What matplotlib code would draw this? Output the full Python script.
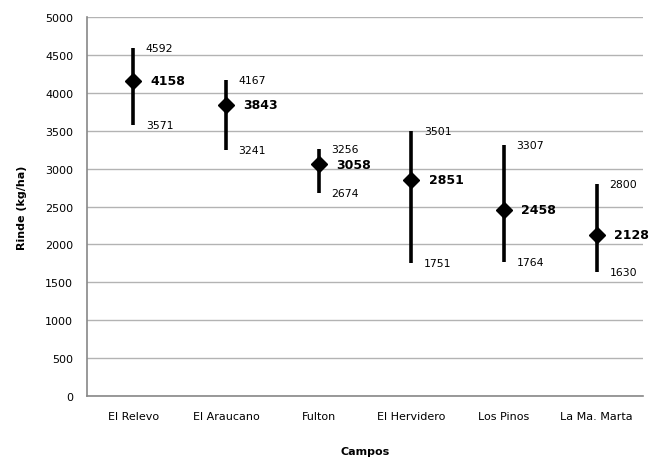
import matplotlib
matplotlib.use("Agg")
import matplotlib.pyplot as plt
from matplotlib.transforms import offset_copy

categories = ["El Relevo", "El Araucano", "Fulton", "El Hervidero", "Los Pinos", "La Ma. Marta"]
high = [4592, 4167, 3256, 3501, 3307, 2800]
low = [3571, 3241, 2674, 1751, 1764, 1630]
mean = [4158, 3843, 3058, 2851, 2458, 2128]
yticks = [0, 500, 1000, 1500, 2000, 2500, 3000, 3500, 4000, 4500, 5000]

plt.rcParams['font.family'] = ['DejaVu Sans']

fig = plt.figure(figsize=(6.49, 4.64), dpi=100)
ax = fig.add_axes([0.134, 0.1444, 0.857, 0.8168])

x = list(range(len(categories)))
ax.vlines(x, low, high, color='black', linewidth=2.6, zorder=3)
ax.plot(x, mean, linestyle='none', marker='D', markersize=8.5, color='black', zorder=4)

hi_tr = offset_copy(ax.transData, fig=fig, x=9, y=0, units='points')
mn_tr = offset_copy(ax.transData, fig=fig, x=12.5, y=0, units='points')
for i in x:
    ax.text(i, high[i], str(high[i]), transform=hi_tr, ha='left', va='center', fontsize=7.8)
    ax.text(i, low[i], str(low[i]), transform=hi_tr, ha='left', va='center', fontsize=7.8)
    ax.text(i, mean[i], str(mean[i]), transform=mn_tr, ha='left', va='center', fontsize=9, fontweight='bold')

ax.set_xlim(-0.5, len(categories) - 0.5)
ax.set_ylim(0, 5000)
ax.set_yticks(yticks)
ax.set_xticks(x)
ax.set_xticklabels(categories, fontsize=8)
ax.tick_params(axis='x', length=0, labelsize=8, pad=11)
ax.tick_params(axis='y', length=0, labelsize=8, pad=10)
ax.grid(axis='y', color='#b3b3b3', linewidth=1)
ax.set_axisbelow(True)
for s in ['top', 'right']:
    ax.spines[s].set_visible(False)
for s in ['left', 'bottom']:
    ax.spines[s].set_color('#888888')
    ax.spines[s].set_linewidth(1.2)

ax.set_xlabel("Campos", fontsize=8, fontweight='bold', labelpad=18)
ax.set_ylabel("Rinde (kg/ha)", fontsize=8, fontweight='bold', labelpad=13)

fig.savefig("out.png", dpi=100)
